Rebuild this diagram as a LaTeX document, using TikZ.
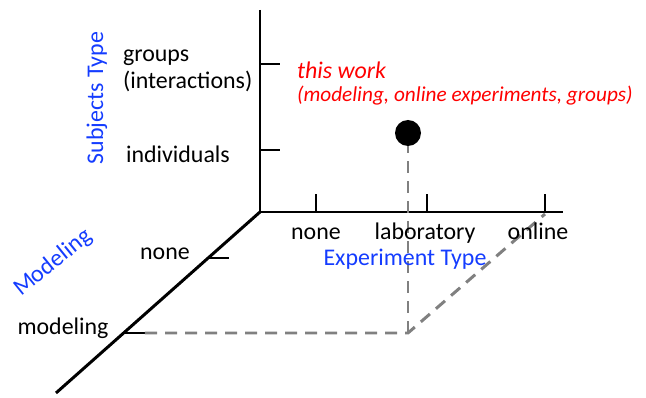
\documentclass[tikz,border=0pt]{standalone}
\usepackage{fontspec}
\setmainfont{Carlito}
\usepackage{tikz}
\usetikzlibrary{arrows.meta,positioning,calc}
\usepackage{xcolor}
\definecolor{axisblue}{RGB}{20,60,255}

\begin{document}
\begin{tikzpicture}[
  font=\fontsize{13.6}{16}\selectfont,
  axis/.style={line width=1.7pt,draw=black},
  tickmark/.style={line width=1.7pt,draw=black},
  guide/.style={line width=1.7pt,draw=black!50,dash pattern=on 0.24cm off 0.16cm},
  lbl/.style={inner sep=1pt,align=left},
  axlbl/.style={inner sep=0pt,text=axisblue},
  note/.style={inner sep=1pt,text=red,font=\fontsize{13.6}{16}\selectfont\itshape}
]
\useasboundingbox (0,0) rectangle (12.92,7.96);
\coordinate (O) at (5.20,3.72);
\coordinate (ytop) at (5.20,7.76);
\coordinate (xend) at (11.26,3.72);
\coordinate (zend) at (1.12,0.10);
\coordinate (yg) at (5.20,6.68);
\coordinate (yi) at (5.20,4.96);
\coordinate (xn) at (6.32,3.72);
\coordinate (xl) at (8.54,3.72);
\coordinate (xo) at (10.90,3.72);
\coordinate (zn) at (4.18,2.80);
\coordinate (zm) at (2.50,1.30);
\coordinate (corner) at (8.16,1.30);
\draw[axis] (ytop) -- (O) -- (xend);
\draw[axis] (O) -- (zend);
\draw[tickmark] (yg) -- ++(0.40,0);
\draw[tickmark] (yi) -- ++(0.40,0);
\draw[tickmark] (xn) -- ++(0,0.36);
\draw[tickmark] (xl) -- ++(0,0.36);
\draw[tickmark] (xo) -- ++(0,0.36);
\draw[tickmark] (zn) -- ++(0.40,0);
\draw[tickmark] (zm) -- ++(0.40,0);
\node[circle,fill=black,inner sep=0pt,minimum size=0.52cm] (dot) at (8.16,5.30) {};
\draw[guide] ($(zm)+(0.40,0)$) -- (corner) -- ($(xo)+(0,-0.04)$);
\draw[guide] (corner) -- (dot.south);
\node[lbl,anchor=west] (groups) at (2.42,6.54) {groups\\[-1pt](interactions)};
\node[lbl,anchor=west] (indiv) at (2.48,4.88) {individuals};
\node[axlbl,rotate=90] (ytitle) at (1.94,6.00) {Subjects Type};
\node[note,anchor=west] (work) at (5.90,6.56) {this work};
\node[note,anchor=west,font=\fontsize{12.1}{14}\selectfont\itshape] (workdesc) at (5.90,6.04) {(modeling, online experiments, groups)};
\node[lbl,anchor=base] (xnone) at (6.32,3.16) {none};
\node[lbl,anchor=base] (xlab) at (8.50,3.16) {laboratory};
\node[lbl,anchor=base] (xonl) at (10.76,3.16) {online};
\node[axlbl] (xtitle) at (8.10,2.78) {Experiment Type};
\node[lbl] (znone) at (3.30,2.88) {none};
\node[lbl] (zmod) at (1.26,1.40) {modeling};
\node[axlbl,rotate=39] (ztitle) at (1.06,2.70) {Modeling};
\end{tikzpicture}
\end{document}
